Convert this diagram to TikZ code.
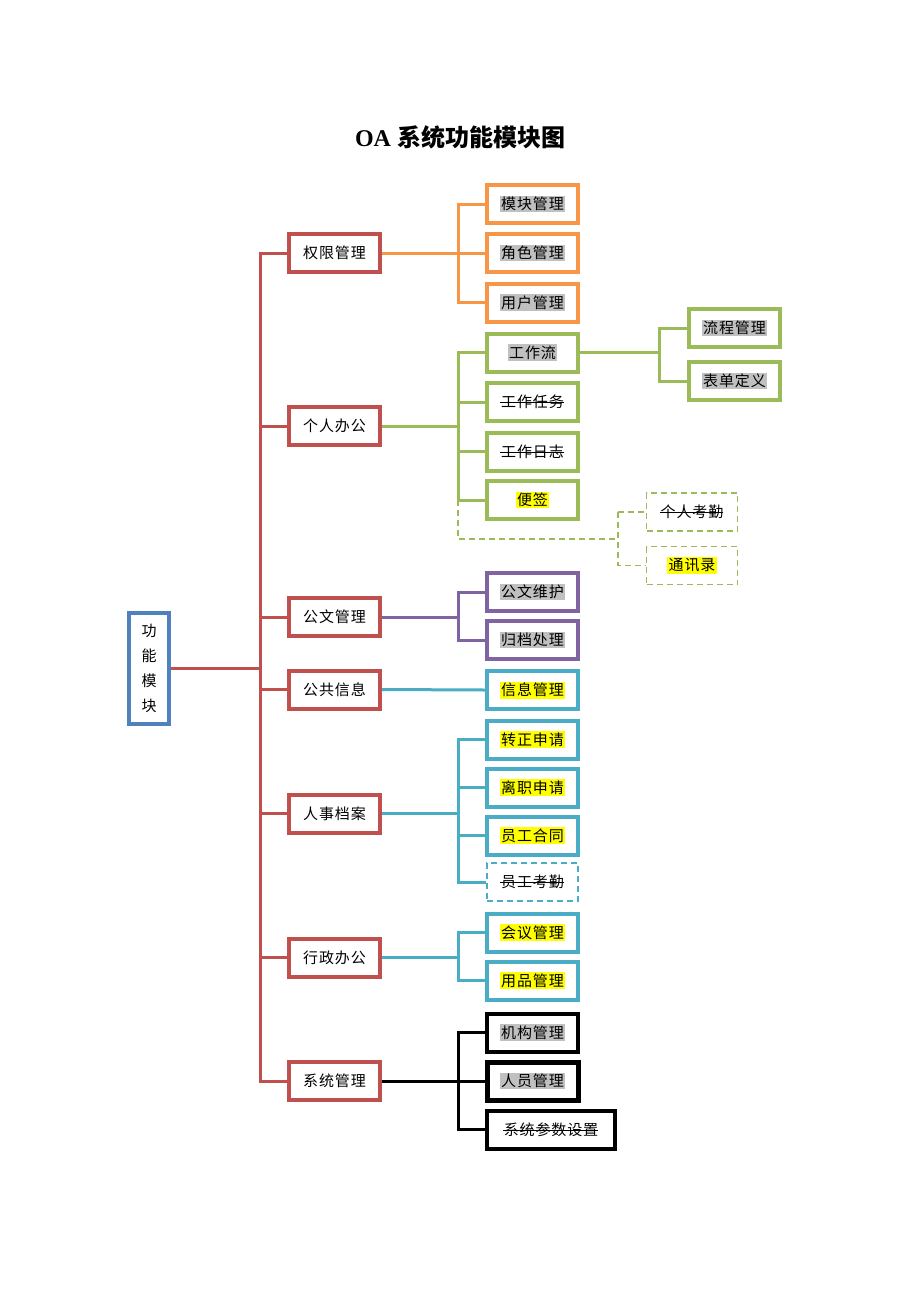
\documentclass[tikz,border=0pt]{standalone}
\usepackage{fontspec}
\setmainfont{Liberation Serif}
\newfontfamily\cjk[LetterSpace=6]{Noto Sans CJK SC}
\newfontfamily\cjkt{Noto Sans CJK SC}
\definecolor{cred}{RGB}{192,80,77}
\definecolor{corange}{RGB}{247,150,70}
\definecolor{cgreen}{RGB}{155,187,89}
\definecolor{cpurple}{RGB}{128,100,162}
\definecolor{ccyan}{RGB}{75,172,198}
\definecolor{cblue}{RGB}{79,129,189}
\definecolor{hlgray}{RGB}{192,192,192}
\definecolor{hlyellow}{RGB}{255,255,0}
\newcommand\boxfont{\cjk\fontsize{15pt}{17pt}\selectfont}
\newcommand\hlg[1]{{\fboxsep=1.5pt\colorbox{hlgray}{#1}}}
\newcommand\hly[1]{{\fboxsep=1.5pt\colorbox{hlyellow}{#1}}}
\newcommand\strk[1]{\setbox0\hbox{#1}\rlap{\kern-1pt\rule[0.3em]{\dimexpr\wd0+1pt\relax}{0.8pt}}\box0}
\tikzset{
  box/.style={draw=#1, line width=4pt, fill=white, minimum width=91pt, minimum height=38pt, inner sep=0pt, font=\boxfont, line join=miter},
  dbox/.style={box=#1, line width=1.8pt, dash pattern=on 6pt off 4pt},
  conn/.style={draw=#1, line width=3pt, line join=miter},
  dconn/.style={draw=#1, line width=1.8pt, dash pattern=on 6pt off 4pt},
}
\begin{document}
\begin{tikzpicture}[x=1pt,y=-1pt]
\useasboundingbox[fill=white] (0,0) rectangle (920,1302);
% title
\node (title) at (460,137) {\fontsize{24pt}{26pt}\selectfont\bfseries OA \cjkt\bfseries 系统功能模块图};
% root
\node[box=cblue, minimum width=40pt, minimum height=111pt, align=center, font=\cjkt\fontsize{15pt}{25pt}\selectfont] (root) at (149,668.5) {功\\能\\模\\块};
% level 1
\node[box=cred] (a1) at (334.5,253) {权限管理};
\node[box=cred] (a2) at (334.5,426) {个人办公};
\node[box=cred] (a3) at (334.5,617) {公文管理};
\node[box=cred] (a4) at (334.5,689.5) {公共信息};
\node[box=cred] (a5) at (334.5,813.5) {人事档案};
\node[box=cred] (a6) at (334.5,957.5) {行政办公};
\node[box=cred] (a7) at (334.5,1081) {系统管理};
% level 2
\node[box=corange] (b11) at (532.5,204) {\hlg{模块管理}};
\node[box=corange] (b12) at (532.5,253) {\hlg{角色管理}};
\node[box=corange] (b13) at (532.5,302.5) {\hlg{用户管理}};
\node[box=cgreen] (b21) at (532.5,352.5) {\hlg{工作流}};
\node[box=cgreen] (b22) at (532.5,402) {\strk{工作任务}};
\node[box=cgreen] (b23) at (532.5,451.5) {\strk{工作日志}};
\node[box=cgreen] (b24) at (532.5,500) {\hly{便签}};
\node[dbox=cgreen] (b25) at (692,512) {\strk{个人考勤}};
\node[dbox=cgreen] (b26) at (692,565.5) {\hly{通讯录}};
\node[box=cgreen] (c1) at (734.5,328) {\hlg{流程管理}};
\node[box=cgreen] (c2) at (734.5,381) {\hlg{表单定义}};
\node[box=cpurple] (b31) at (532.5,592) {\hlg{公文维护}};
\node[box=cpurple] (b32) at (532.5,640) {\hlg{归档处理}};
\node[box=ccyan] (b41) at (532.5,690) {\hly{信息管理}};
\node[box=ccyan] (b51) at (532.5,739.5) {\hly{转正申请}};
\node[box=ccyan] (b52) at (532.5,787.5) {\hly{离职申请}};
\node[box=ccyan] (b53) at (532.5,835.5) {\hly{员工合同}};
\node[dbox=ccyan] (b54) at (532.5,882) {\strk{员工考勤}};
\node[box=ccyan] (b61) at (532.5,932.5) {\hly{会议管理}};
\node[box=ccyan] (b62) at (532.5,980.5) {\hly{用品管理}};
\node[box=black] (b71) at (532.5,1032.5) {\hlg{机构管理}};
\node[box=black, line width=5pt] (b72) at (532.5,1081) {\hlg{人员管理}};
\node[box=black, minimum width=128pt] (b73) at (551,1129.5) {\strk{系统参数设置}};
% trunk
\coordinate (t) at (260,668.5);
\draw[conn=cred] (root.east) -- (t);
\foreach \n in {a1,a2,a3,a4,a5,a6,a7} \draw[conn=cred] (t) |- (\n.west);
% branches
\coordinate (bx) at (458,0);
\draw[conn=corange] (a1.east) -- (bx|-a1.east);
\foreach \n in {b11,b12,b13} \draw[conn=corange] (bx|-a1.east) |- (\n.west);
\draw[conn=cgreen] (a2.east) -- (bx|-a2.east);
\foreach \n in {b21,b22,b23,b24} \draw[conn=cgreen] (bx|-a2.east) |- (\n.west);
\coordinate (cx) at (659,0);
\draw[conn=cgreen] (b21.east) -- (cx|-b21.east);
\foreach \n in {c1,c2} \draw[conn=cgreen] (cx|-b21.east) |- (\n.west);
\coordinate (d1) at (458,539);
\coordinate (d2) at (618,539);
\draw[dconn=cgreen] (bx|-b24.west) -- (d1) -- (d2);
\draw[dconn=cgreen] (d2|-b25.west) -- (b25.west);
\draw[dconn=cgreen] (d2|-b25.west) -- (d2|-b26.west) -- (b26.west);
\draw[conn=cpurple] (a3.east) -- (bx|-a3.east);
\foreach \n in {b31,b32} \draw[conn=cpurple] (bx|-a3.east) |- (\n.west);
\draw[conn=ccyan] (a4.east) -- (b41.west);
\draw[conn=ccyan] (a5.east) -- (bx|-a5.east);
\foreach \n in {b51,b52,b53,b54} \draw[conn=ccyan] (bx|-a5.east) |- (\n.west);
\draw[conn=ccyan] (a6.east) -- (bx|-a6.east);
\foreach \n in {b61,b62} \draw[conn=ccyan] (bx|-a6.east) |- (\n.west);
\draw[conn=black] (a7.east) -- (bx|-a7.east);
\foreach \n in {b71,b72,b73} \draw[conn=black] (bx|-a7.east) |- (\n.west);
\end{tikzpicture}
\end{document}
